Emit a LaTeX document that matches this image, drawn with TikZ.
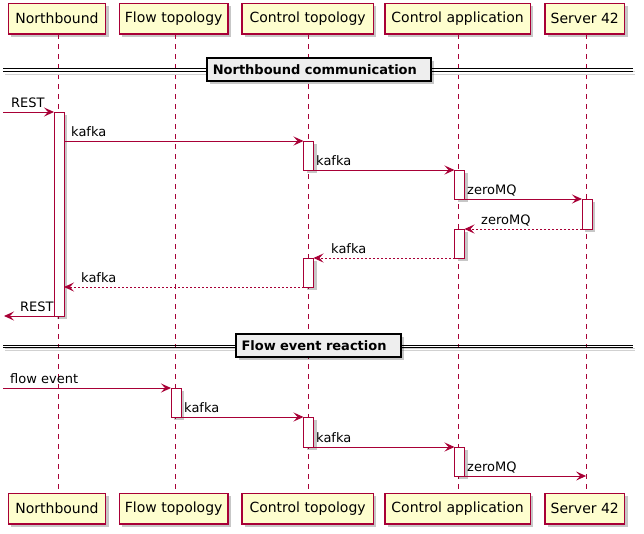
\documentclass[tikz,border=0pt]{standalone}
\usepackage{fontspec}
\setmainfont{DejaVu Sans}
\usetikzlibrary{arrows.meta,shadows,calc}
\definecolor{umlred}{HTML}{A80036}
\definecolor{umlfill}{HTML}{FEFECE}
\definecolor{divfill}{HTML}{EEEEEE}
\begin{document}
\begin{tikzpicture}[x=1pt,y=-1pt,
  shad/.style={drop shadow={shadow xshift=3pt,shadow yshift=-3pt,fill=black,opacity=0.22}},
  part/.style={draw=umlred,fill=umlfill,line width=1.5pt,minimum height=30.7pt,inner sep=0pt,
    outer sep=0pt,font=\fontsize{14}{16}\selectfont,shad},
  act/.style={draw=umlred,fill=white,line width=1pt,minimum width=10pt,inner sep=0pt,
    outer sep=0pt,shad},
  life/.style={draw=umlred,line width=1pt,dash pattern=on 5pt off 5pt},
  msg/.style={draw=umlred,line width=1pt,-{Stealth[length=10pt,width=9pt,inset=4pt]}},
  ret/.style={msg,dash pattern=on 2pt off 2pt},
  lbl/.style={anchor=base west,inner sep=0pt,font=\fontsize{13}{15}\selectfont},
  divline/.style={draw=black,line width=1pt},
  divshadow/.style={draw=black!18,line width=1pt},
  divbox/.style={draw=black,fill=divfill,line width=2pt,inner xsep=5.5pt,inner ysep=0pt,
    minimum height=22.7pt,align=left,font=\fontsize{13}{15}\selectfont\bfseries,shad}
]
\useasboundingbox (0,0) rectangle (644,533);

% participants
\node[part,minimum width=97.4pt]  (nbT)  at (57,18.65)    {Northbound};
\node[part,minimum width=108.7pt] (ftT)  at (173.7,18.65) {Flow topology};
\node[part,minimum width=131.7pt] (ctT)  at (307.6,18.65) {Control topology};
\node[part,minimum width=145.7pt] (caT)  at (457.6,18.65) {Control application};
\node[part,minimum width=79.7pt]  (s4T)  at (584.8,18.65) {Server 42};

\node[part,minimum width=97.4pt]  (nbB)  at (57,508.65)    {Northbound};
\node[part,minimum width=108.7pt] (ftB)  at (173.7,508.65) {Flow topology};
\node[part,minimum width=131.7pt] (ctB)  at (307.6,508.65) {Control topology};
\node[part,minimum width=145.7pt] (caB)  at (457.6,508.65) {Control application};
\node[part,minimum width=79.7pt]  (s4B)  at (584.8,508.65) {Server 42};

% lifelines
\foreach \p in {nb,ft,ct,ca,s4}{
  \draw[life] ([xshift=1.3pt]\p T.south) -- ([xshift=1.3pt]\p B.north);
}
\coordinate (s4L) at ([xshift=1.3pt]s4T.south);

% dividers
\draw[divshadow] (5,71.3) -- (635,71.3);
\draw[divshadow] (5,74) -- (635,74);
\draw[divline] (3,68.3) -- (633,68.3);
\draw[divline] (3,71) -- (633,71);
\node[divbox,text width=212.4pt] (d1) at (319,69.65) {Northbound communication};

\draw[divshadow] (5,348) -- (635,348);
\draw[divshadow] (5,350.7) -- (635,350.7);
\draw[divline] (3,345) -- (633,345);
\draw[divline] (3,347.7) -- (633,347.7);
\node[divbox,text width=154pt] (d2) at (318.5,345.8) {Flow event reaction};

% activations
\node[act,minimum height=204pt] (a1) at (59,214)    {};
\node[act,minimum height=29pt]  (a2) at (308.5,155.5) {};
\node[act,minimum height=29pt]  (a3) at (459.5,184.5) {};
\node[act,minimum height=30pt]  (a4) at (587,214)   {};
\node[act,minimum height=29pt]  (a5) at (459.5,243.5) {};
\node[act,minimum height=29pt]  (a6) at (308.5,272.5) {};
\node[act,minimum height=29pt]  (a7) at (176,402.5) {};
\node[act,minimum height=30pt]  (a8) at (308.5,432)   {};
\node[act,minimum height=29pt]  (a9) at (459.5,461.5) {};

\coordinate (in1) at (3,112);
\coordinate (out1) at (4,316);
\coordinate (in2) at (3,388);

% messages
\draw[msg] (in1) -- (a1.north west);
\node[lbl] (l1) at (11,107) {REST};

\draw[msg] (a1.east |- a2.north) -- (a2.north west);
\node[lbl] (l2) at (71,136) {kafka};

\draw[msg] (a2.south east) -- (a3.north west);
\node[lbl] (l3) at (316,165) {kafka};

\draw[msg] (a3.south east) -- (a4.north west);
\node[lbl] (l4) at (467,194) {zeroMQ};

\draw[ret] (a4.south west) -- (a5.north east);
\node[lbl] (l5) at (481,224) {zeroMQ};

\draw[ret] (a5.south west) -- (a6.north east);
\node[lbl] (l6) at (331,253) {kafka};

\draw[ret] (a6.south west) -- (a1.east |- a6.south);
\node[lbl] (l7) at (81,282) {kafka};

\draw[msg] (a1.south west) -- (out1);
\node[lbl] (l8) at (20,311) {REST};

\draw[msg] (in2) -- (a7.north west);
\node[lbl] (l9) at (10,383) {flow event};

\draw[msg] (a7.south east) -- (a8.north west);
\node[lbl] (l10) at (184,412) {kafka};

\draw[msg] (a8.south east) -- (a9.north west);
\node[lbl] (l11) at (316,442) {kafka};

\draw[msg] (a9.south east) -- (s4L |- a9.south);
\node[lbl] (l12) at (467,471) {zeroMQ};
\end{tikzpicture}
\end{document}
